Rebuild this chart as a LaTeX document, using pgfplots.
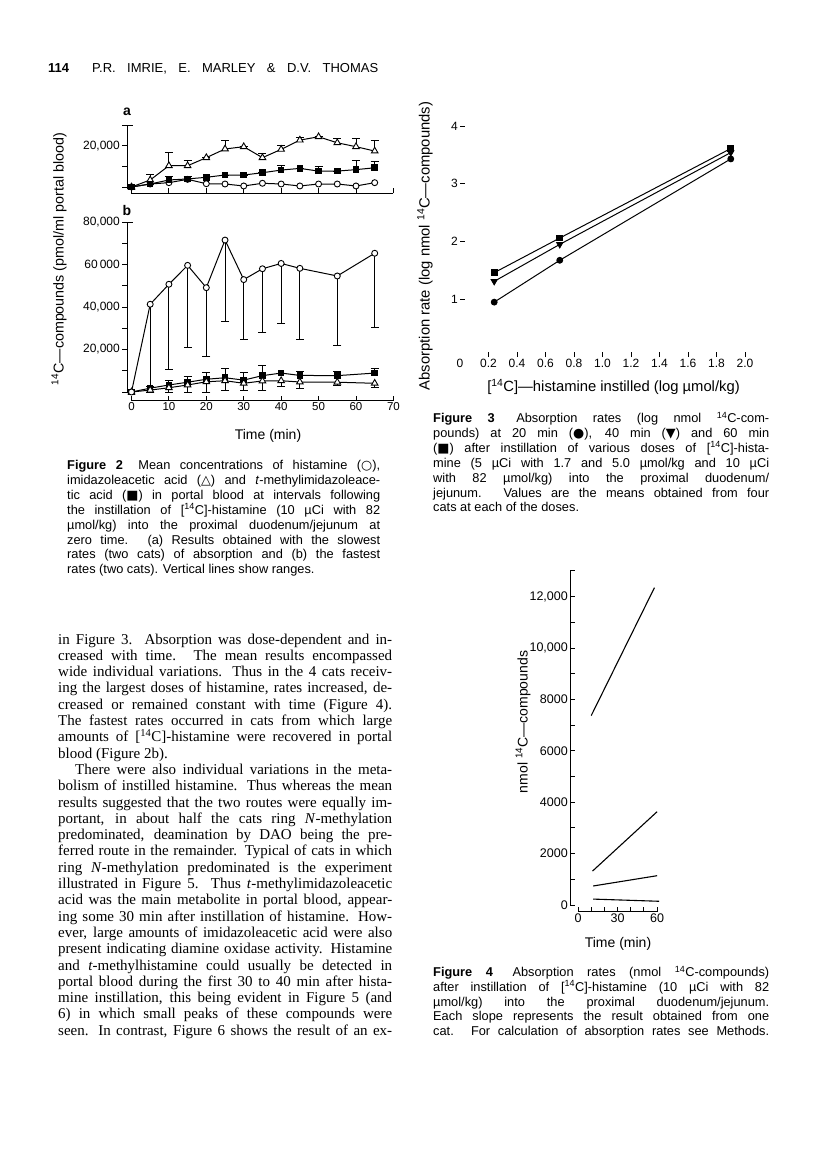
\documentclass[border=0pt]{standalone}
\usepackage{fontspec}
\setmainfont{Liberation Sans}
\newfontfamily\capfont{Liberation Sans}
\newfontfamily\bodyfont{Liberation Serif}
\newfontfamily\symf{DejaVu Sans}
\usepackage{pgfplots}
\pgfplotsset{compat=1.18}

\newcommand\su[1]{\textsuperscript{#1}}
\newcommand\bl[2]{\node[anchor=base west,inner sep=0pt] at (58pt,-#1pt) {\bodyfont\fontsize{15}{16}\selectfont\makebox[334pt][s]{#2}};}
\newcommand\blr[2]{\node[anchor=base west,inner sep=0pt] at (58pt,-#1pt) {\bodyfont\fontsize{15}{16}\selectfont\makebox[334pt][l]{#2}};}
\newcommand\bli[2]{\node[anchor=base west,inner sep=0pt] at (58pt,-#1pt) {\bodyfont\fontsize{15}{16}\selectfont\makebox[334pt][s]{\hspace*{17pt}#2}};}
% caption line: x, width, baseline, text
\newcommand\cl[4]{\node[anchor=base west,inner sep=0pt] at (#1pt,-#3pt) {\capfont\fontsize{12.8}{13}\selectfont\makebox[#2pt][s]{#4}};}
\newcommand\clr[4]{\node[anchor=base west,inner sep=0pt] at (#1pt,-#3pt) {\capfont\fontsize{12.8}{13}\selectfont\makebox[#2pt][l]{#4}};}

\pgfplotsset{
  pg/.style={scale only axis, clip=false,
    scaled ticks=false,
    axis line style={draw=none},
    axis x line*=bottom, axis y line*=left,
    major tick length=5pt,
    tick style={black, line width=0.9pt},
    every tick label/.append style={font=\fontsize{11.5}{12}\selectfont, inner sep=2pt},
  },
  eb/.style={/pgfplots/error bars/error bar style={line width=0.9pt, solid},
    /pgfplots/error bars/error mark options={rotate=90, mark size=4pt, line width=0.9pt, solid}},
}

\begin{document}
\begin{tikzpicture}[line cap=butt]
\path[use as bounding box] (0pt,0pt) rectangle (816pt,-1149pt);
\fill[white] (0pt,0pt) rectangle (816pt,-1149pt);

% ---------- header ----------
\node[anchor=base west,inner sep=0pt] at (48pt,-72.5pt) {\fontsize{13}{14}\selectfont\bfseries 114};
\node[anchor=base west,inner sep=0pt] at (92pt,-72.5pt) {\fontsize{13}{14}\selectfont\makebox[286pt][s]{P.R. IMRIE, E. MARLEY \& D.V. THOMAS}};

% ---------- Figure 2a ----------
\node[anchor=center,inner sep=0pt] at (127pt,-112pt) {\fontsize{14}{14}\selectfont\bfseries a};
\begin{axis}[pg, at={(127pt,-193.3pt)}, anchor=south west,
  width=266.4pt, height=68.3pt,
  xmin=-1.2, xmax=70, ymin=-3050, ymax=30000,
  xtick align=inside, ytick align=outside,
  xtick={0,10,20,30,40,50,60,70}, xticklabels={},
  ytick={0,10000,20000,30000}, yticklabels={,,\mbox{20,000},},
  every tick label/.append style={font=\fontsize{12}{12}\selectfont},
]
\draw[line width=1pt] (axis cs:0.3,-800) -- (axis cs:-1.2,-800) -- (axis cs:-1.2,30000) -- (axis cs:0.3,30000);
\draw[line width=1pt] (axis cs:0,-3050) -- (axis cs:70,-3050);
% histamine (open circles)
\addplot[black, line width=1pt, mark=*, mark size=3pt, mark options={fill=white, line width=0.9pt}]
 coordinates {(0,0) (5,1450) (10,2100) (15,3700) (20,1600) (25,1450) (30,500) (35,1800) (40,1450) (45,500) (50,1450) (55,1450) (60,500) (65,2100)};
% imidazoleacetic acid (open triangles)
\addplot[black, line width=1pt, mark=triangle*, mark size=3.8pt, mark options={fill=white, line width=0.9pt}, eb,
 error bars/.cd, y dir=plus, y explicit]
 coordinates {(0,0) +- (0,0) (5,3400) +- (0,2700) (10,10300) +- (0,6300) (15,10300) +- (0,2400) (20,14200) +- (0,0)
 (25,18400) +- (0,3900) (30,19500) +- (0,0) (35,14200) +- (0,1800) (40,18200) +- (0,2000) (45,22700) +- (0,1300)
 (50,24300) +- (0,0) (55,21400) +- (0,2200) (60,19500) +- (0,4100) (65,17400) +- (0,4900)};
% t-methylimidazoleacetic acid (filled squares)
\addplot[black, line width=1pt, mark=square*, mark size=2.8pt, eb,
 error bars/.cd, y dir=plus, y explicit]
 coordinates {(0,0) +- (0,0) (5,1450) +- (0,0) (10,3400) +- (0,1600) (15,3900) +- (0,1100) (20,4700) +- (0,0)
 (25,5800) +- (0,0) (30,5800) +- (0,0) (35,6900) +- (0,0) (40,8200) +- (0,2100) (45,9000) +- (0,0)
 (50,7700) +- (0,2100) (55,7700) +- (0,0) (60,8400) +- (0,4600) (65,9300) +- (0,3300)};
\end{axis}

% ---------- Figure 2b ----------
\node[anchor=center,inner sep=0pt] at (127pt,-210pt) {\fontsize{14}{14}\selectfont\bfseries b};
\begin{axis}[pg, at={(127pt,-400.7pt)}, anchor=south west,
  width=266.4pt, height=178.7pt,
  xmin=-1.2, xmax=70, ymin=-4100, ymax=80000,
  xtick align=inside, ytick align=outside,
  xtick={0,10,20,30,40,50,60,70}, xticklabels={0,10,20,30,40,50,60,70},
  ytick={0,10000,20000,30000,40000,50000,60000,70000,80000},
  yticklabels={,,\mbox{20,000},,\mbox{40,000},,\mbox{60\,000},,\mbox{80,000}},
  y tick label style={font=\fontsize{12}{12}\selectfont},
]
\draw[line width=1pt] (axis cs:0.3,0) -- (axis cs:-1.2,0) -- (axis cs:-1.2,80000) -- (axis cs:0.3,80000);
\draw[line width=1pt] (axis cs:0,-4100) -- (axis cs:70,-4100);
% t-MIAA (filled squares)
\addplot[black, line width=1pt, mark=square*, mark size=2.8pt, eb,
 error bars/.cd, y dir=plus, y explicit]
 coordinates {(0,0) +- (0,0) (5,1800) +- (0,1000) (10,3300) +- (0,2300) (15,4600) +- (0,2600) (20,6000) +- (0,3300)
 (25,6700) +- (0,4300) (30,5600) +- (0,3800) (35,7700) +- (0,5000) (40,8900) +- (0,0) (45,7800) +- (0,1900)
 (55,7700) +- (0,1900) (65,8900) +- (0,2400)};
% IAA (open triangles)
\addplot[black, line width=1pt, mark=triangle*, mark size=3.8pt, mark options={fill=white, line width=0.9pt}, eb,
 error bars/.cd, y dir=minus, y explicit]
 coordinates {(0,0) +- (0,0) (5,900) +- (0,900) (10,2000) +- (0,2000) (15,3300) +- (0,3300) (20,4800) +- (0,4800)
 (25,5300) +- (0,4400) (30,4100) +- (0,3600) (35,5200) +- (0,4300) (40,5300) +- (0,2800) (45,4700) +- (0,3100)
 (55,4600) +- (0,1300) (65,4100) +- (0,1900)};
% histamine (open circles)
\addplot[black, line width=1pt, mark=*, mark size=3pt, mark options={fill=white, line width=0.9pt}, eb,
 error bars/.cd, y dir=minus, y explicit]
 coordinates {(0,0) +- (0,0) (5,41300) +- (0,38500) (10,50700) +- (0,39900) (15,59600) +- (0,38600) (20,49100) +- (0,32200)
 (25,71500) +- (0,38400) (30,52900) +- (0,28000) (35,58000) +- (0,30100) (40,60500) +- (0,28200) (45,58200) +- (0,33300)
 (55,54600) +- (0,32800) (65,65300) +- (0,34900)};
\end{axis}
\node[inner sep=0pt] at (268pt,-436pt) {\fontsize{14}{14}\selectfont Time (min)};
\node[inner sep=0pt, rotate=90] at (59pt,-259pt) {\fontsize{14.3}{14}\selectfont \su{14}C---compounds (pmol/ml portal blood)};

% ---------- Figure 3 ----------
\begin{axis}[pg, at={(460pt,-357pt)}, anchor=south west,
  width=289.3pt, height=231pt,
  xmin=0, xmax=2.03, ymin=0, ymax=4,
  axis line style={black, line width=1pt},
  tick align=inside,
  xtick={0.2,0.4,0.6,0.8,1.0,1.2,1.4,1.6,1.8,2.0},
  xticklabels={0.2,0.4,0.6,0.8,1.0,1.2,1.4,1.6,1.8,2.0},
  extra x ticks={0}, extra x tick labels={0}, extra x tick style={major tick length=0pt},
  ytick={1,2,3,4}, yticklabels={1,2,3,4},
  every tick label/.append style={font=\fontsize{12}{12}\selectfont},
]
\addplot[black, line width=1pt, mark=square*, mark size=2.8pt] coordinates {(0.24,1.46) (0.70,2.06) (1.90,3.61)};
\addplot[black, line width=1pt, mark=triangle*, mark size=3.4pt, mark options={rotate=180}] coordinates {(0.24,1.31) (0.70,1.95) (1.90,3.54)};
\addplot[black, line width=1pt, mark=*, mark size=2.9pt] coordinates {(0.24,0.95) (0.70,1.675) (1.90,3.43)};
\end{axis}
\node[inner sep=0pt] at (613.5pt,-387pt) {\fontsize{14.8}{15}\selectfont [\su{14}C]---histamine instilled (log µmol/kg)};
\node[inner sep=0pt, rotate=90] at (425pt,-246pt) {\fontsize{14.8}{15}\selectfont Absorption rate (log nmol \su{14}C---compounds)};

% ---------- Figure 4 ----------
\begin{axis}[pg, at={(570pt,-911.7pt)}, anchor=south west,
  width=88.4pt, height=340.8pt,
  xmin=-6.1, xmax=61, ymin=-261, ymax=13000,
  tick align=inside,
  xtick={0,10,20,30,40,50,60}, xticklabels={0,,,30,,,60},
  ytick={0,1000,2000,3000,4000,5000,6000,7000,8000,9000,10000,11000,12000,13000},
  yticklabels={0,,2000,,4000,,6000,,8000,,\mbox{10,000},,\mbox{12,000},},
  every tick label/.append style={font=\fontsize{12.5}{13}\selectfont},
]
\draw[line width=1pt] (axis cs:-6.1,0) -- (axis cs:-6.1,13000) -- (axis cs:-2,13000);
\draw[line width=1pt] (axis cs:0,-261) -- (axis cs:60,-261);
\addplot[black, line width=1.1pt] coordinates {(10,7370) (58,12350)};
\addplot[black, line width=1.1pt] coordinates {(11,1320) (60,3630)};
\addplot[black, line width=1.1pt] coordinates {(11.5,740) (60,1140)};
\addplot[black, line width=1.1pt] coordinates {(11.5,230) (61.5,145)};
\end{axis}
\node[inner sep=0pt] at (618pt,-944pt) {\fontsize{14}{14}\selectfont Time (min)};
\node[inner sep=0pt, rotate=90] at (523pt,-722pt) {\fontsize{14}{14}\selectfont nmol \su{14}C---compounds};

% ---------- Figure 2 caption ----------
\cl{67}{313}{469.5}{\textbf{Figure 2}\hspace{6pt} Mean concentrations of histamine ({\symf ○}),}
\cl{67}{313}{484.4}{imidazoleacetic acid ({\symf △}) and \textit{t}-methylimidazoleace-}
\cl{67}{313}{499.3}{tic acid ({\symf ■}) in portal blood at intervals following}
\cl{67}{313}{514.2}{the instillation of [\su{14}C]-histamine (10 µCi with 82}
\cl{67}{313}{529.1}{µmol/kg) into the proximal duodenum/jejunum at}
\cl{67}{313}{544.0}{zero time. (a) Results obtained with the slowest}
\cl{67}{313}{558.9}{rates (two cats) of absorption and (b) the fastest}
\clr{67}{313}{573.8}{rates (two cats). Vertical lines show ranges.}

% ---------- Figure 3 caption ----------
\cl{433}{336}{422.5}{\textbf{Figure 3}\hspace{6pt} Absorption rates (log nmol \su{14}C-com-}
\cl{433}{336}{437.4}{pounds) at 20 min ({\symf ●}), 40 min ({\symf ▼}) and 60 min}
\cl{433}{336}{452.3}{({\symf ■}) after instillation of various doses of [\su{14}C]-hista-}
\cl{433}{336}{467.2}{mine (5 µCi with 1.7 and 5.0 µmol/kg and 10 µCi}
\cl{433}{336}{482.1}{with 82 µmol/kg) into the proximal duodenum/}
\cl{433}{336}{497.0}{jejunum. Values are the means obtained from four}
\clr{433}{336}{511.9}{cats at each of the doses.}

% ---------- Figure 4 caption ----------
\cl{433}{336}{976.5}{\textbf{Figure 4}\hspace{6pt} Absorption rates (nmol \su{14}C-compounds)}
\cl{433}{336}{991.2}{after instillation of [\su{14}C]-histamine (10 µCi with 82}
\cl{433}{336}{1006.0}{µmol/kg) into the proximal duodenum/jejunum.}
\cl{433}{336}{1020.7}{Each slope represents the result obtained from one}
\cl{433}{336}{1035.5}{cat. For calculation of absorption rates see Methods.}

% ---------- body text ----------
\bl{644.0}{in Figure 3. Absorption was dose-dependent and in-}
\bl{660.3}{creased with time. The mean results encompassed}
\bl{676.6}{wide individual variations. Thus in the 4 cats receiv-}
\bl{692.9}{ing the largest doses of histamine, rates increased, de-}
\bl{709.2}{creased or remained constant with time (Figure 4).}
\bl{725.5}{The fastest rates occurred in cats from which large}
\bl{741.8}{amounts of [\su{14}C]-histamine were recovered in portal}
\blr{758.1}{blood (Figure 2b).}
\bli{774.4}{There were also individual variations in the meta-}
\bl{790.7}{bolism of instilled histamine. Thus whereas the mean}
\bl{807.0}{results suggested that the two routes were equally im-}
\bl{823.3}{portant, in about half the cats ring \textit{N}-methylation}
\bl{839.6}{predominated, deamination by DAO being the pre-}
\bl{855.9}{ferred route in the remainder. Typical of cats in which}
\bl{872.2}{ring \textit{N}-methylation predominated is the experiment}
\bl{888.5}{illustrated in Figure 5. Thus \textit{t}-methylimidazoleacetic}
\bl{904.8}{acid was the main metabolite in portal blood, appear-}
\bl{921.1}{ing some 30 min after instillation of histamine. How-}
\bl{937.4}{ever, large amounts of imidazoleacetic acid were also}
\bl{953.7}{present indicating diamine oxidase activity. Histamine}
\bl{970.0}{and \textit{t}-methylhistamine could usually be detected in}
\bl{986.3}{portal blood during the first 30 to 40 min after hista-}
\bl{1002.6}{mine instillation, this being evident in Figure 5 (and}
\bl{1018.9}{6) in which small peaks of these compounds were}
\bl{1035.2}{seen. In contrast, Figure 6 shows the result of an ex-}
\end{tikzpicture}
\end{document}
